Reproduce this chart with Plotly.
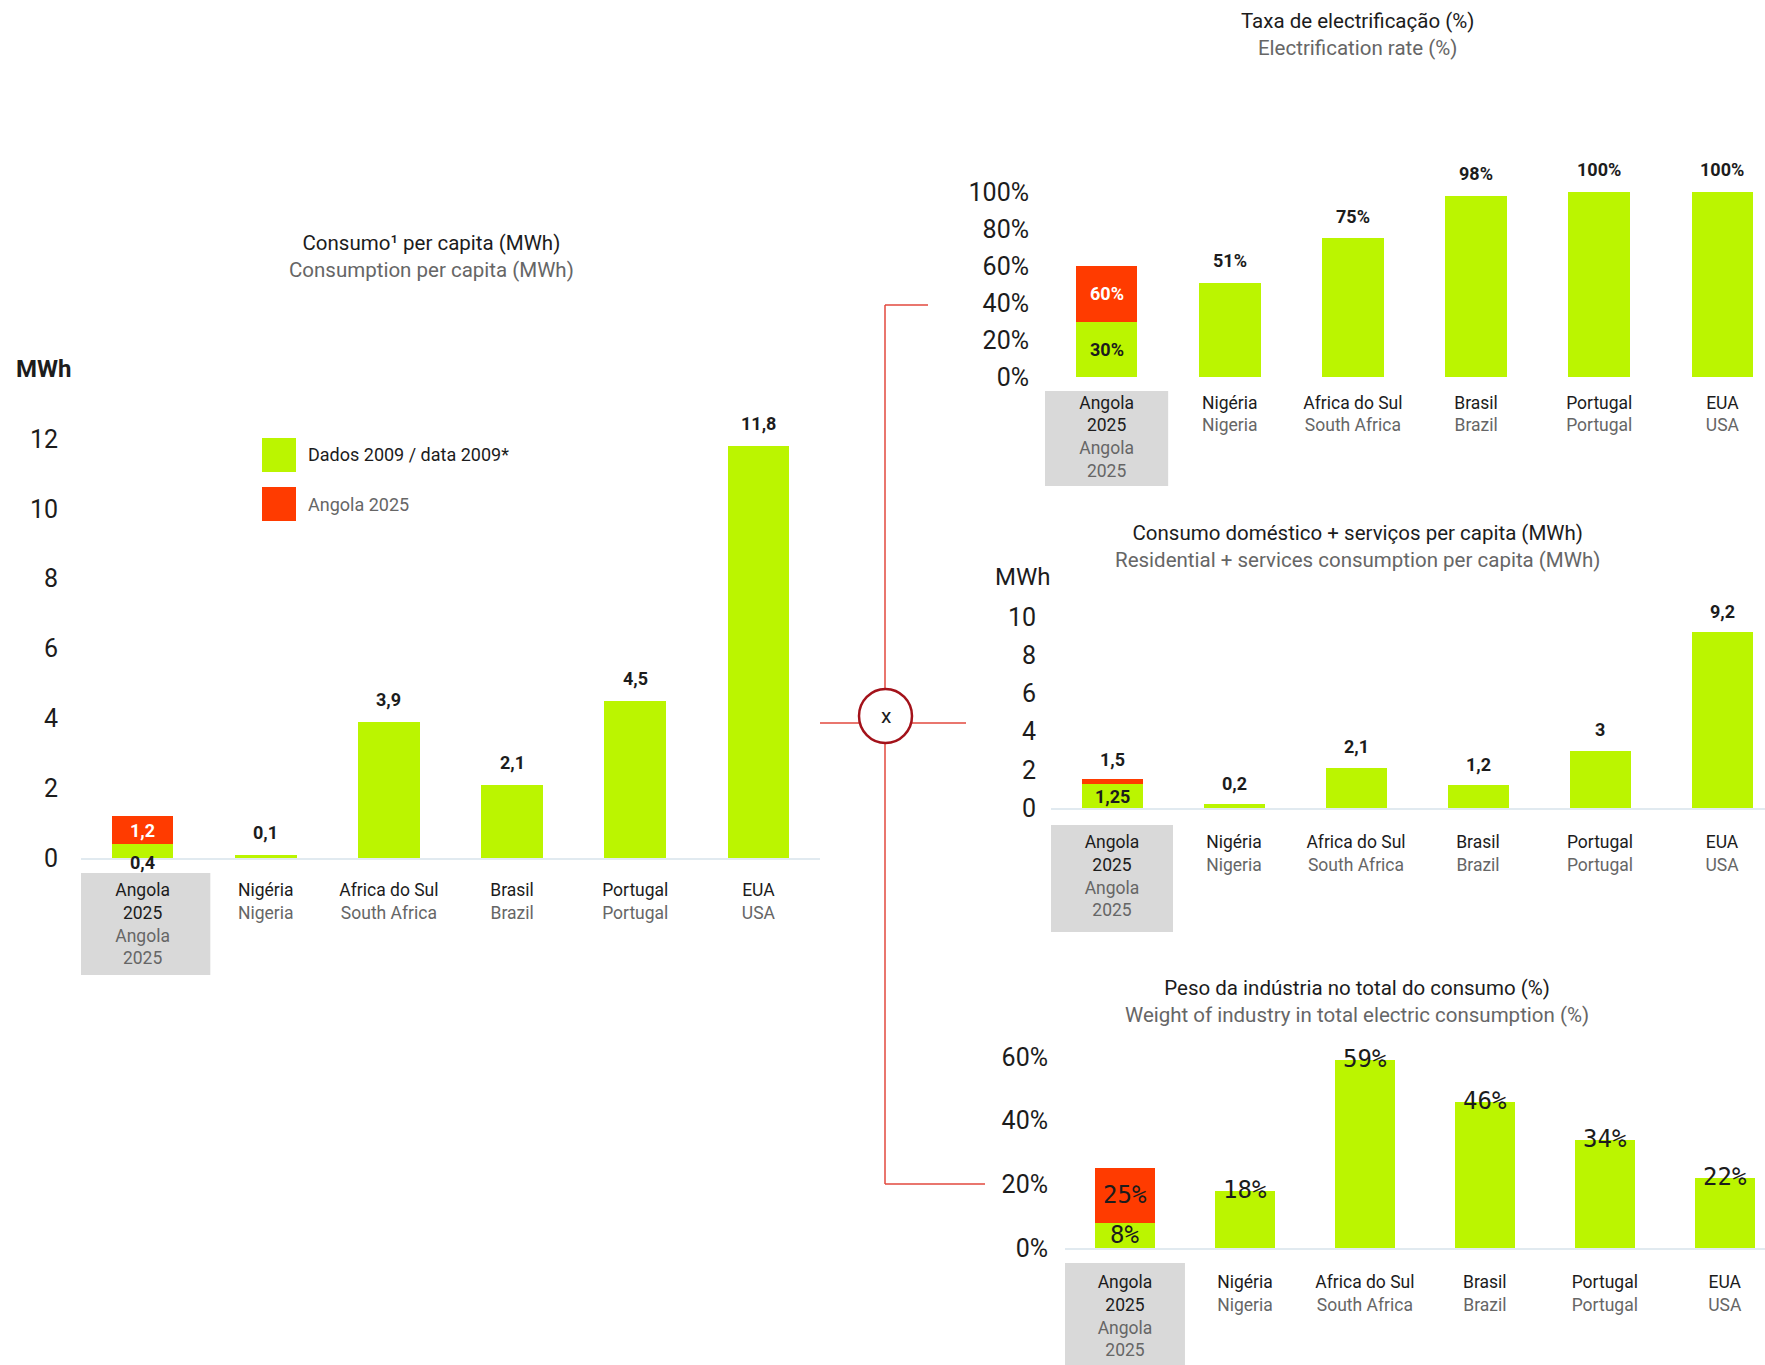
import plotly.graph_objects as go

W, H = 1765, 1365

GREEN = "#BBF500"
RED = "#FF3B00"
LINE_RED = "#E2493E"
DARK_RED = "#A3121A"
BOX_GRAY = "#D9D9D9"
BASE_LINE = "#E1EAF0"
TXT = "#1C1C1C"
TXT2 = "#666666"
FONT = "Roboto, Liberation Sans, Arial, sans-serif"
MONO = "DejaVu Sans Mono, Liberation Mono, monospace"

# ---------------- data ----------------
categories = ["Angola 2025", "Nigéria", "Africa do Sul", "Brasil", "Portugal", "EUA"]
labels_pt = ["Angola<br>2025", "Nigéria", "Africa do Sul", "Brasil", "Portugal", "EUA"]
labels_en = ["Angola<br>2025", "Nigeria", "South Africa", "Brazil", "Portugal", "USA"]

consumption_2009 = [0.4, 0.1, 3.9, 2.1, 4.5, 11.8]        # MWh per capita
consumption_angola_2025 = 1.2
consumption_ticks = [0, 2, 4, 6, 8, 10, 12]

electrification_2009 = [30, 51, 75, 98, 100, 100]        # %
electrification_angola_2025 = 60
electrification_ticks = [0, 20, 40, 60, 80, 100]

residential_2009 = [1.25, 0.2, 2.1, 1.2, 3, 9.2]          # MWh per capita
residential_angola_2025 = 1.5
residential_ticks = [0, 2, 4, 6, 8, 10]

industry_2009 = [8, 18, 59, 46, 34, 22]                  # %
industry_angola_2025 = 25
industry_ticks = [0, 20, 40, 60]

legend_labels = ["Dados 2009 / data 2009*", "Angola 2025"]


# ---------------- helpers ----------------
def PX(x):
    return x / W


def PY(y):
    return 1 - y / H


def fmt(v):
    return f"{v:g}".replace(".", ",")


ticktext = [f"{p}<br><span style='color:{TXT2}'>{e}</span>" for p, e in zip(labels_pt, labels_en)]

fig = go.Figure()
annotations = []
shapes = []

LBL = dict(size=18, color=TXT, family=FONT)
LBL_W = dict(size=18, color="white", family=FONT)
LBL_M = dict(size=24, color=TXT, family=MONO)
CAT_SIZE = 17.5


def add_panel(idx, values, angola_total):
    xa = "x" if idx == 1 else f"x{idx}"
    ya = "y" if idx == 1 else f"y{idx}"
    fig.add_trace(go.Bar(x=categories, y=values, marker=dict(color=GREEN, line=dict(width=0)),
                         xaxis=xa, yaxis=ya, showlegend=False, hoverinfo="skip"))
    fig.add_trace(go.Bar(x=[categories[0]], y=[angola_total - values[0]],
                         marker=dict(color=RED, line=dict(width=0)),
                         xaxis=xa, yaxis=ya, showlegend=False, hoverinfo="skip"))
    return xa, ya


def label(xa, ya, x, y, text, font, yshift=0):
    annotations.append(dict(xref=xa, yref=ya, x=x, y=y, text=text, showarrow=False, yshift=yshift,
                            xanchor="center", yanchor="middle", font=font))


# Panel 1: consumption per capita
xa, ya = add_panel(1, consumption_2009, consumption_angola_2025)
for i in range(1, 6):
    label(xa, ya, categories[i], consumption_2009[i], f"<b>{fmt(consumption_2009[i])}</b>", LBL, 22)
label(xa, ya, categories[0], (consumption_2009[0] + consumption_angola_2025) / 2,
      f"<b>{fmt(consumption_angola_2025)}</b>", LBL_W)
label(xa, ya, categories[0], 0, f"<b>{fmt(consumption_2009[0])}</b>", LBL, -4)

# Panel 2: electrification rate
xa, ya = add_panel(2, electrification_2009, electrification_angola_2025)
for i in range(1, 6):
    label(xa, ya, categories[i], electrification_2009[i], f"<b>{fmt(electrification_2009[i])}%</b>", LBL, 22)
label(xa, ya, categories[0], electrification_2009[0] / 2, f"<b>{fmt(electrification_2009[0])}%</b>", LBL)
label(xa, ya, categories[0], (electrification_2009[0] + electrification_angola_2025) / 2,
      f"<b>{fmt(electrification_angola_2025)}%</b>", LBL_W)

# Panel 3: residential + services
xa, ya = add_panel(3, residential_2009, residential_angola_2025)
for i in range(1, 6):
    label(xa, ya, categories[i], residential_2009[i], f"<b>{fmt(residential_2009[i])}</b>", LBL, 21)
label(xa, ya, categories[0], residential_angola_2025, f"<b>{fmt(residential_angola_2025)}</b>", LBL, 20)
label(xa, ya, categories[0], residential_2009[0] / 2, f"<b>{fmt(residential_2009[0])}</b>", LBL)

# Panel 4: industry weight
xa, ya = add_panel(4, industry_2009, industry_angola_2025)
for i in range(1, 6):
    label(xa, ya, categories[i], industry_2009[i], f"{fmt(industry_2009[i])}%", LBL_M, 1)
label(xa, ya, categories[0], industry_2009[0] / 2, f"{fmt(industry_2009[0])}%", LBL_M)
label(xa, ya, categories[0], (industry_2009[0] + industry_angola_2025) / 2, f"{fmt(industry_angola_2025)}%", LBL_M)


def cat_axis(left_px, right_px, rng, anchor, standoff, showline):
    return dict(domain=[PX(left_px), PX(right_px)], range=rng, anchor=anchor,
                type="category", categoryorder="array", categoryarray=categories,
                tickvals=categories, ticktext=ticktext,
                tickfont=dict(size=CAT_SIZE, color=TXT, family=FONT),
                showgrid=False, zeroline=False, showline=showline, linecolor=BASE_LINE, linewidth=2,
                ticks="", ticklabelstandoff=standoff, fixedrange=True)


def val_axis(bottom_px, top_px, rng, anchor, tickvals, suffix, standoff):
    return dict(domain=[PY(bottom_px), PY(top_px)], range=rng, anchor=anchor,
                tickvals=tickvals, ticktext=[f"{fmt(t)}{suffix}" for t in tickvals],
                tickfont=dict(size=25, color=TXT, family=FONT),
                showgrid=False, zeroline=False, showline=False, ticks="",
                ticklabelstandoff=standoff, fixedrange=True)


y1_top = 12.4
y2_top = 105
y3_top = 10.5
y4_top = 63

fig.update_layout(
    xaxis=cat_axis(81, 820, [-0.5, 5.5], "y", 15, True),
    yaxis=val_axis(858, 858 - y1_top * 34.92, [0, y1_top], "x", consumption_ticks, "", 22),
    xaxis2=cat_axis(1045, W, [-0.5, 5.5 - (1784 - 1765) / 123.2], "y2", 13, False),
    yaxis2=val_axis(377, 377 - y2_top * 1.85, [0, y2_top], "x2", electrification_ticks, "%", 15),
    xaxis3=cat_axis(1051, W, [-0.5, 5.5 - (1783 - 1765) / 122.0], "y3", 17, True),
    yaxis3=val_axis(808, 808 - y3_top * 19.1, [0, y3_top], "x3", residential_ticks, "", 14),
    xaxis4=cat_axis(1065, W, [-0.5, 5.5 - (1784.6 - 1765) / 119.2], "y4", 17, True),
    yaxis4=val_axis(1248, 1248 - y4_top * 3.183, [0, y4_top], "x4", industry_ticks, "%", 16),
)

# gray boxes behind the Angola category labels
for xr, hw, top, bot in [("x", 0.55, 873, 975), ("x2", 0.5, 391, 486), ("x3", 0.5, 825, 932), ("x4", 0.5, 1263, 1365)]:
    shapes.append(dict(type="rect", xref=xr, yref="paper", x0=-hw, x1=hw, y0=PY(bot), y1=PY(top),
                       fillcolor=BOX_GRAY, line=dict(width=0), layer="below"))

# titles
titles = [
    (431, 256, "Consumo¹ per capita (MWh)", "Consumption per capita (MWh)"),
    (1357, 34, "Taxa de electrificação (%)", "Electrification rate (%)"),
    (1357, 546, "Consumo doméstico + serviços per capita (MWh)", "Residential + services consumption per capita (MWh)"),
    (1357, 1002, "Peso da indústria no total do consumo (%)", "Weight of industry in total electric consumption (%)"),
]
for x, y, t1, t2 in titles:
    annotations.append(dict(xref="paper", yref="paper", x=PX(x), y=PY(y), xanchor="center", yanchor="middle",
                            text=f"{t1}<br><span style='color:{TXT2}'>{t2}</span>", showarrow=False,
                            font=dict(size=20.5, color=TXT, family=FONT)))

# unit labels
annotations.append(dict(xref="paper", yref="paper", x=PX(43), y=PY(369), xanchor="center", yanchor="middle",
                        text="<b>MWh</b>", showarrow=False, font=dict(size=24, color=TXT, family=FONT)))
annotations.append(dict(xref="paper", yref="paper", x=PX(1022), y=PY(577), xanchor="center", yanchor="middle",
                        text="MWh", showarrow=False, font=dict(size=24, color=TXT, family=FONT)))

# legend
for (y0, y1, col), lab, tc in zip([(438, 472, GREEN), (487, 521, RED)], legend_labels, [TXT, TXT2]):
    shapes.append(dict(type="rect", xref="paper", yref="paper", x0=PX(262), x1=PX(296), y0=PY(y1), y1=PY(y0),
                       fillcolor=col, line=dict(width=0)))
    annotations.append(dict(xref="paper", yref="paper", x=PX(306), y=PY((y0 + y1) / 2), xanchor="left",
                            yanchor="middle", text=lab, showarrow=False, font=dict(size=18, color=tc, family=FONT)))

# connector lines and multiplication circle
for x0, y0, x1, y1 in [(885, 305, 885, 1184), (885, 305, 928, 305), (885, 1184, 985, 1184), (820, 723, 966, 723)]:
    shapes.append(dict(type="line", xref="paper", yref="paper", x0=PX(x0), y0=PY(y0), x1=PX(x1), y1=PY(y1),
                       line=dict(color=LINE_RED, width=1.5)))
shapes.append(dict(type="circle", xref="paper", yref="paper", x0=PX(859), x1=PX(912), y0=PY(743), y1=PY(689),
                   fillcolor="white", line=dict(color=DARK_RED, width=2.5)))
annotations.append(dict(xref="paper", yref="paper", x=PX(885.5), y=PY(716), xanchor="center", yanchor="middle",
                        text="x", showarrow=False, font=dict(size=21, color=TXT, family=FONT)))

fig.update_layout(
    width=W, height=H, margin=dict(l=0, r=0, t=0, b=0, autoexpand=False),
    paper_bgcolor="white", plot_bgcolor="white",
    barmode="stack", bargap=0.5, showlegend=False,
    font=dict(family=FONT, color=TXT),
    annotations=annotations, shapes=shapes,
)

fig.write_html("out.html")
